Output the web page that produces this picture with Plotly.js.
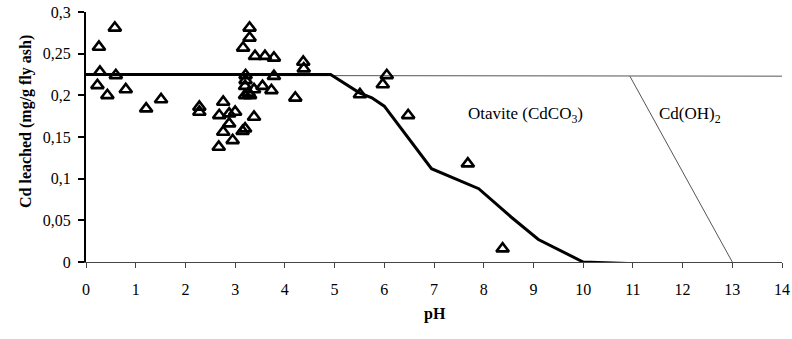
<!DOCTYPE html>
<html>
<head>
<meta charset="utf-8">
<script src="https://cdn.plot.ly/plotly-3.0.1.min.js"></script>
<style>html,body{margin:0;padding:0;background:#fff;}#chart{width:792px;height:339px;}</style>
</head>
<body>
<div id="chart"></div>
<script>
// Measured leaching points (pH, Cd leached mg/g fly ash)
const pointsPH = [0.26, 0.58, 0.28, 0.60, 0.23, 0.43, 0.80, 1.21, 1.51, 2.28, 2.28,
  2.76, 2.68, 2.88, 3.00, 2.88, 2.76, 2.95, 2.67, 3.15, 3.20, 3.38,
  3.29, 3.29, 3.16, 3.40, 3.60, 3.78, 3.21, 3.21, 3.78, 3.20, 3.38, 3.55, 3.73,
  3.20, 3.27, 3.30, 4.21, 4.37, 4.38, 5.51, 6.05, 5.97, 6.48, 7.68, 8.38];
const pointsCd = [0.258, 0.281, 0.228, 0.224, 0.212, 0.200, 0.207, 0.184, 0.195, 0.186, 0.180,
  0.192, 0.176, 0.178, 0.180, 0.166, 0.156, 0.146, 0.138, 0.157, 0.160, 0.174,
  0.281, 0.269, 0.257, 0.247, 0.247, 0.245, 0.224, 0.218, 0.223, 0.211, 0.207, 0.211, 0.206,
  0.200, 0.203, 0.200, 0.197, 0.240, 0.232, 0.201, 0.224, 0.213, 0.176, 0.118, 0.016];

// Model curve (thick line)
const modelPH = [0, 4.92, 5.5, 5.75, 6.0, 6.95, 7.9, 8.55, 9.1, 10.0, 11.0];
const modelCd = [0.225, 0.225, 0.203, 0.197, 0.187, 0.112, 0.088, 0.054, 0.027, 0.0, -0.002];

// Phase boundaries (thin lines)
const otaviteTopPH = [0, 14];
const otaviteTopCd = [0.224, 0.223];
const hydroxideBoundPH = [10.94, 13.0];
const hydroxideBoundCd = [0.223, 0.0];

// Axis ticks
const xTickVals = [0,1,2,3,4,5,6,7,8,9,10,11,12,13,14];
const yTickVals = [0, 0.05, 0.1, 0.15, 0.2, 0.25, 0.3];
const yTickText = ["0", "0,05", "0,1", "0,15", "0,2", "0,25", "0,3"];

const serif = "'Liberation Serif', 'Times New Roman', serif";

const traces = [
  {x: otaviteTopPH, y: otaviteTopCd, mode: "lines", line: {color: "#555", width: 1}, hoverinfo: "skip"},
  {x: hydroxideBoundPH, y: hydroxideBoundCd, mode: "lines", line: {color: "#555", width: 1}, hoverinfo: "skip"},
  {x: modelPH, y: modelCd, mode: "lines", line: {color: "#000", width: 3}, cliponaxis: false},
  {x: pointsPH, y: pointsCd, mode: "markers", cliponaxis: false,
   marker: {symbol: "triangle-up-open", size: 11, color: "#000", line: {color: "#000", width: 2.6}}}
];

const layout = {
  width: 792, height: 339,
  margin: {l: 86, r: 10, t: 12, b: 77},
  paper_bgcolor: "#fff", plot_bgcolor: "#fff",
  showlegend: false,
  font: {family: serif, size: 16, color: "#000"},
  xaxis: {
    range: [0, 14], tickvals: xTickVals, ticktext: xTickVals.map(String),
    showgrid: false, zeroline: false, showline: true, linecolor: "#444", linewidth: 1,
    ticks: "outside", ticklen: 5, tickwidth: 1, tickcolor: "#444",
    ticklabelstandoff: 8, ticklabeloverflow: "allow",
    tickfont: {family: serif, size: 16, color: "#000"}
  },
  yaxis: {
    range: [0, 0.3], tickvals: yTickVals, ticktext: yTickText,
    showgrid: false, zeroline: false, showline: true, linecolor: "#000", linewidth: 2,
    ticks: "outside", ticklen: 6, tickwidth: 2, tickcolor: "#000",
    ticklabelstandoff: 4, ticklabeloverflow: "allow",
    tickfont: {family: serif, size: 16, color: "#000"}
  },
  annotations: [
    {text: "Otavite (CdCO<sub>3</sub>)", xref: "paper", yref: "paper", x: (525-86)/696, y: (262-115)/250,
     showarrow: false, font: {family: serif, size: 17, color: "#000"}},
    {text: "Cd(OH)<sub>2</sub>", xref: "paper", yref: "paper", x: (723-86)/696, y: (262-115)/250,
     showarrow: false, font: {family: serif, size: 17, color: "#000"}},
    {text: "<b>Cd leached (mg/g fly ash)</b>", xref: "paper", yref: "paper", x: (15-86)/696, y: (262-122)/250,
     textangle: -90, showarrow: false, font: {family: serif, size: 16, color: "#000"}},
    {text: "<b>pH</b>", xref: "paper", yref: "paper", x: (435-86)/696, y: (262-325)/250,
     showarrow: false, font: {family: serif, size: 16, color: "#000"}}
  ]
};

Plotly.newPlot("chart", traces, layout, {staticPlot: true, displayModeBar: false});
</script>
</body>
</html>
